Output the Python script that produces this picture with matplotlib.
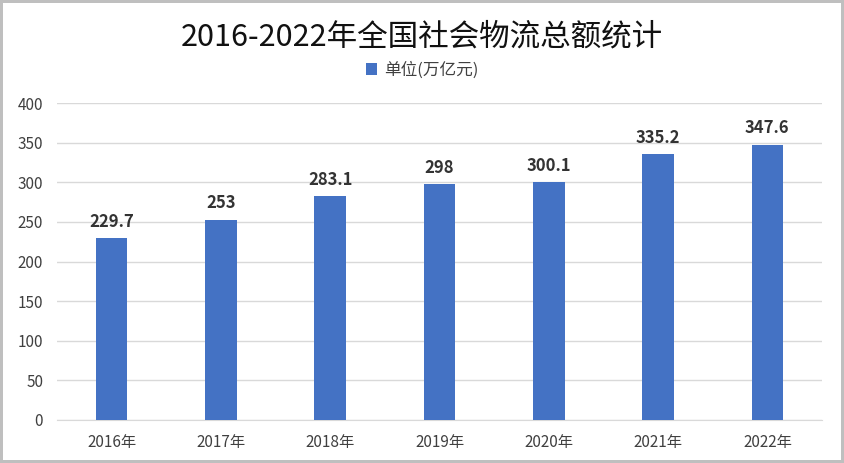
import numpy as np
import matplotlib.pyplot as plt

plt.rcParams['font.family'] = ['Noto Sans CJK SC', 'DejaVu Sans']

years = ['2016年', '2017年', '2018年', '2019年', '2020年', '2021年', '2022年']
values = [229.7, 253, 283.1, 298, 300.1, 335.2, 347.6]
value_labels = ['229.7', '253', '283.1', '298', '300.1', '335.2', '347.6']

fig = plt.figure(figsize=(8.44, 4.63), dpi=100)
fig.patch.set_edgecolor('#bfbfbf')
fig.patch.set_linewidth(3)
ax = fig.add_axes([0.0675, 0.0929, 0.9065, 0.6846])

x = np.arange(len(years))
bars = ax.bar(x, values, width=0.29, color='#4472C4', label='单位(万亿元)', zorder=3)

for xi, v, s in zip(x, values, value_labels):
    ax.text(xi, v + 9, s, ha='center', va='bottom', fontsize=12,
            fontweight='bold', color='#333333')

ax.set_xlim(-0.5, len(years) - 0.5)
ax.set_ylim(0, 400)
ax.set_yticks(np.arange(0, 401, 50))
ax.set_xticks(x)
ax.set_xticklabels(years)
ax.grid(axis='y', color='#d9d9d9', linewidth=1, zorder=0)
for s in ['top', 'right', 'left']:
    ax.spines[s].set_visible(False)
ax.spines['bottom'].set_color('#d9d9d9')
ax.tick_params(axis='both', length=0, labelsize=11, labelcolor='#404040')
ax.tick_params(axis='x', pad=10)
ax.tick_params(axis='y', pad=10)
for lbl in ax.get_xticklabels() + ax.get_yticklabels():
    lbl.set_fontweight('medium')

fig.text(0.5, 0.92, '2016-2022年全国社会物流总额统计', ha='center', va='center',
         fontsize=22, color='#111111')
fig.legend(loc='center', bbox_to_anchor=(0.5, 0.848), frameon=False,
           fontsize=12, handlelength=0.7, handleheight=0.7, handletextpad=0.4,
           labelcolor='#404040')

fig.savefig('out.png', dpi=100, edgecolor=fig.get_edgecolor())
